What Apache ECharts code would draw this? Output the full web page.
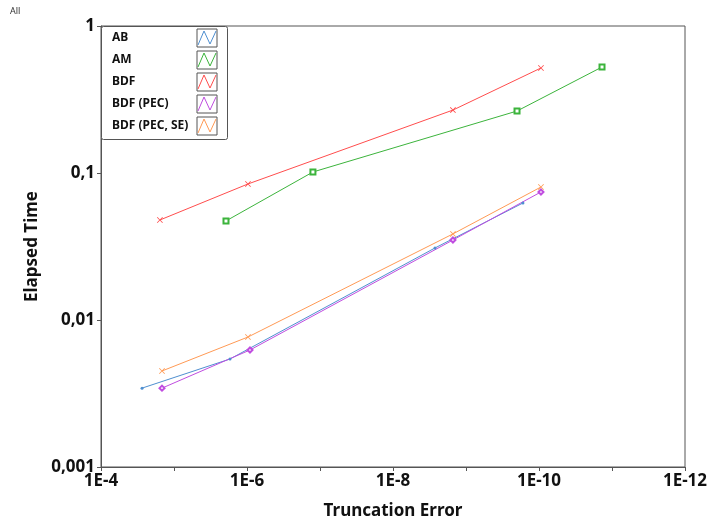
<!DOCTYPE html>
<html>
<head>
<meta charset="utf-8">
<script src="https://cdn.jsdelivr.net/npm/echarts@6/dist/echarts.min.js"></script>
<style>
  html, body { margin: 0; padding: 0; background: #fff; }
  #chart { width: 713px; height: 529px; }
</style>
</head>
<body>
<div id="chart"></div>
<script>
// Method names, in legend order
const seriesNames = ['AB', 'AM', 'BDF', 'BDF (PEC)', 'BDF (PEC, SE)'];
const seriesColors = ['#4f8fd0', '#3cb43c', '#ff4d4d', '#c04de0', '#ff9a55'];

// Truncation error (x) and elapsed time (y) per method
const abX = [2.74e-5, 1.71e-6, 2.66e-9, 1.66e-10];
const abY = [0.00344, 0.00543, 0.0309, 0.0625];

const amX = [1.94e-6, 1.25e-7, 2.0e-10, 1.37e-11];
const amY = [0.0472, 0.1016, 0.264, 0.526];

const bdfX = [1.56e-5, 9.7e-7, 1.51e-9, 9.4e-11];
const bdfY = [0.0479, 0.0842, 0.268, 0.518];

const pecX = [1.46e-5, 9.1e-7, 1.51e-9, 9.4e-11];
const pecY = [0.00344, 0.00625, 0.035, 0.0743];

const seX = [1.46e-5, 9.7e-7, 1.51e-9, 9.4e-11];
const seY = [0.0045, 0.00766, 0.0385, 0.0803];

// Axis range and tick labels
const xMin = 1e-12, xMax = 1e-4;
const yMin = 0.001, yMax = 1;
const xTickLabels = { '-4': '1E-4', '-6': '1E-6', '-8': '1E-8', '-10': '1E-10', '-12': '1E-12' };
const yTickLabels = { '-3': '0,001', '-2': '0,01', '-1': '0,1', '0': '1' };

const xs = [abX, amX, bdfX, pecX, seX];
const ys = [abY, amY, bdfY, pecY, seY];

const crossPath = 'path://M0,1 L1,0 L5,4 L9,0 L10,1 L6,5 L10,9 L9,10 L5,6 L1,10 L0,9 L4,5 Z';
const symbols = ['circle', 'emptyRect', crossPath, 'emptyDiamond', crossPath];
const symbolSizes = [3, 5, 6, 5, 6];

const FONT = '"Noto Sans", "Open Sans", sans-serif';
const AXIS_COLOR = '#555';

const series = seriesNames.map((name, i) => ({
  name,
  type: 'line',
  data: xs[i].map((x, k) => [x, ys[i][k]]),
  symbol: symbols[i],
  symbolSize: symbolSizes[i],
  showSymbol: true,
  lineStyle: { width: 1, color: seriesColors[i] },
  itemStyle: { color: seriesColors[i], borderWidth: 1 },
  emphasis: { disabled: true },
  animation: false,
  z: 3
}));

// Legend box drawn as graphics: name on the left, framed sample on the right
const legendLeft = 101, legendTop = 26, legendW = 126, legendH = 113;
const rowH = 22, firstRowY = 38;
const legendGraphics = [{
  type: 'rect',
  left: legendLeft, top: legendTop,
  shape: { width: legendW, height: legendH, r: 2 },
  style: { fill: '#fff', stroke: '#555', lineWidth: 1 },
  z: 10
}];
seriesNames.forEach((name, i) => {
  const cy = firstRowY + i * rowH;
  legendGraphics.push({
    type: 'text',
    x: 112, y: cy,
    style: {
      text: name, fill: '#111', font: 'bold 12px ' + FONT,
      textVerticalAlign: 'middle', verticalAlign: 'middle'
    },
    z: 11
  });
  const bx = 197, by = cy - 9, bw = 20, bh = 18;
  legendGraphics.push({
    type: 'rect',
    shape: { x: bx, y: by, width: bw, height: bh },
    style: { fill: '#fff', stroke: '#555', lineWidth: 1 },
    z: 11
  });
  legendGraphics.push({
    type: 'polyline',
    shape: { points: [[bx + 1, by + bh - 2], [bx + 7, by + 2], [bx + 13, by + bh - 3], [bx + bw - 1, by + 2]] },
    style: { stroke: seriesColors[i], lineWidth: 1, fill: null },
    z: 12
  });
});

const option = {
  backgroundColor: '#fff',
  animation: false,
  textStyle: { fontFamily: FONT },
  grid: {
    left: 101, top: 26, right: 28, bottom: 62,
    show: true, borderColor: AXIS_COLOR, borderWidth: 1, backgroundColor: 'transparent'
  },
  xAxis: {
    type: 'log',
    logBase: 10,
    min: xMin, max: xMax,
    inverse: true,
    name: 'Truncation Error',
    nameLocation: 'middle',
    nameGap: 36,
    nameTextStyle: { fontSize: 17, fontWeight: 'bold', color: '#111', fontFamily: FONT },
    axisLine: { show: true, lineStyle: { color: AXIS_COLOR, width: 1 } },
    axisTick: { show: true, interval: 1, length: 4, lineStyle: { color: AXIS_COLOR } },
    minorTick: { show: false },
    splitLine: { show: false },
    axisLabel: {
      interval: 1,
      margin: 6,
      fontSize: 17, fontWeight: 'bold', color: '#111', fontFamily: FONT,
      formatter: v => {
        const e = Math.round(Math.log10(v));
        return xTickLabels[String(e)] || '';
      }
    }
  },
  yAxis: {
    type: 'log',
    logBase: 10,
    min: yMin, max: yMax,
    name: 'Elapsed Time',
    nameLocation: 'middle',
    nameGap: 58,
    nameRotate: 90,
    nameTextStyle: { fontSize: 17, fontWeight: 'bold', color: '#111', fontFamily: FONT },
    axisLine: { show: true, lineStyle: { color: AXIS_COLOR, width: 1 } },
    axisTick: { show: true, length: 4, lineStyle: { color: AXIS_COLOR } },
    minorTick: { show: false },
    splitLine: { show: false },
    axisLabel: {
      margin: 6,
      fontSize: 17, fontWeight: 'bold', color: '#111', fontFamily: FONT,
      formatter: v => {
        const e = Math.round(Math.log10(v));
        return yTickLabels[String(e)] || '';
      }
    }
  },
  graphic: [
    {
      type: 'text', x: 10, y: 7,
      style: { text: 'All', fill: '#333', font: '9px ' + FONT }
    }
  ].concat(legendGraphics),
  series
};

const chart = echarts.init(document.getElementById('chart'), null, { renderer: 'canvas' });
chart.setOption(option);
</script>
</body>
</html>
